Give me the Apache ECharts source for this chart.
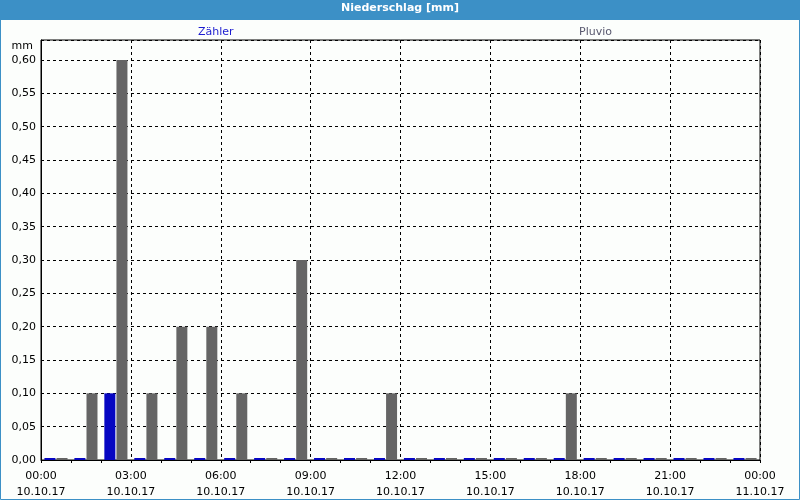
<!DOCTYPE html>
<html>
<head>
<meta charset="utf-8">
<script src="https://cdn.jsdelivr.net/npm/echarts@6/dist/echarts.min.js"></script>
<style>html,body{margin:0;padding:0;background:#fff}#c{width:800px;height:500px}</style>
</head>
<body>
<div id="c"></div>
<script>
// hour index (start of hourly interval, 10.10.17)
var hours = [0,1,2,3,4,5,6,7,8,9,10,11,12,13,14,15,16,17,18,19,20,21,22,23];
// Zähler (blue) hourly precipitation [mm]
var zaehler = [0,0,0.10,0,0,0,0,0,0,0,0,0,0,0,0,0,0,0,0,0,0,0,0,0];
// Pluvio (gray) hourly precipitation [mm]
var pluvio = [0,0.10,0.60,0.10,0.20,0.20,0.10,0,0.30,0,0,0.10,0,0,0,0,0,0.10,0,0,0,0,0,0];
// x-axis tick labels every 3 hours
var timeLabels = ['00:00','03:00','06:00','09:00','12:00','15:00','18:00','21:00','00:00'];
var dateLabels = ['10.10.17','10.10.17','10.10.17','10.10.17','10.10.17','10.10.17','10.10.17','10.10.17','11.10.17'];

var FONT = 'DejaVu Sans';
var chart = echarts.init(document.getElementById('c'));
function pairs(vals){ return hours.map(function(h,i){ return [h + 0.5, vals[i]]; }); }

chart.setOption({
  backgroundColor: '#fcfefc',
  animation: false,
  textStyle: { fontFamily: FONT },
  graphic: [
    { type: 'rect', z: 0, shape: { x: 0, y: 0, width: 800, height: 20 }, style: { fill: '#3c90c6' } },
    { type: 'rect', z: 0, shape: { x: 0.5, y: 0.5, width: 799, height: 499 }, style: { fill: null, stroke: '#3c90c6', lineWidth: 1 } }
  ],
  title: {
    text: 'Niederschlag [mm]',
    left: 'center', top: 3, padding: 0,
    textStyle: { color: '#ffffff', fontSize: 11, fontWeight: 'bold', fontFamily: FONT }
  },
  legend: [
    { data: [{ name: 'Zähler', textStyle: { color: '#1c1cd0' } }], icon: 'none', itemWidth: 0, itemGap: 0, left: 193, top: 25, padding: 0,
      textStyle: { fontSize: 11, fontFamily: FONT } },
    { data: [{ name: 'Pluvio', textStyle: { color: '#58586e' } }], icon: 'none', itemWidth: 0, itemGap: 0, left: 574, top: 25, padding: 0,
      textStyle: { fontSize: 11, fontFamily: FONT } }
  ],
  grid: { left: 41, right: 40, top: 40, bottom: 39, show: true, borderColor: '#000', borderWidth: 1, backgroundColor: 'transparent' },
  xAxis: {
    type: 'value', min: 0, max: 24, interval: 3,
    axisLine: { lineStyle: { color: '#000' } },
    axisTick: { show: true, length: 3, lineStyle: { color: '#000' } },
    minorTick: { show: true, splitNumber: 3, length: 3, lineStyle: { color: '#000' } },
    splitLine: { show: true, lineStyle: { color: '#000', type: [3, 3], width: 1 } },
    axisLabel: {
      color: '#000', fontSize: 11, fontFamily: FONT, lineHeight: 16, margin: 8,
      formatter: function(v){ var i = Math.round(v / 3); return timeLabels[i] + '\n' + dateLabels[i]; }
    }
  },
  yAxis: {
    type: 'value', min: 0, max: 0.63, interval: 0.05,
    name: 'mm', nameLocation: 'end', nameGap: -12,
    nameTextStyle: { color: '#000', fontSize: 11, fontFamily: FONT, align: 'right', padding: [0, 8, 0, 0] },
    axisLine: { show: true, lineStyle: { color: '#000' } },
    axisTick: { show: false },
    splitLine: { show: true, lineStyle: { color: '#000', type: [3, 3], width: 1 } },
    axisLabel: {
      color: '#000', fontSize: 11, fontFamily: FONT, margin: 5, showMaxLabel: false,
      formatter: function(v){ return v.toFixed(2).replace('.', ','); }
    }
  },
  series: [
    { name: 'Zähler', type: 'bar', data: pairs(zaehler), barWidth: 11, barGap: '10%', barMinHeight: 2,
      itemStyle: { color: '#0606c2' } },
    { name: 'Pluvio', type: 'bar', data: pairs(pluvio), barWidth: 11, barGap: '10%', barMinHeight: 2,
      itemStyle: { color: '#656565' } }
  ]
});
</script>
</body>
</html>
